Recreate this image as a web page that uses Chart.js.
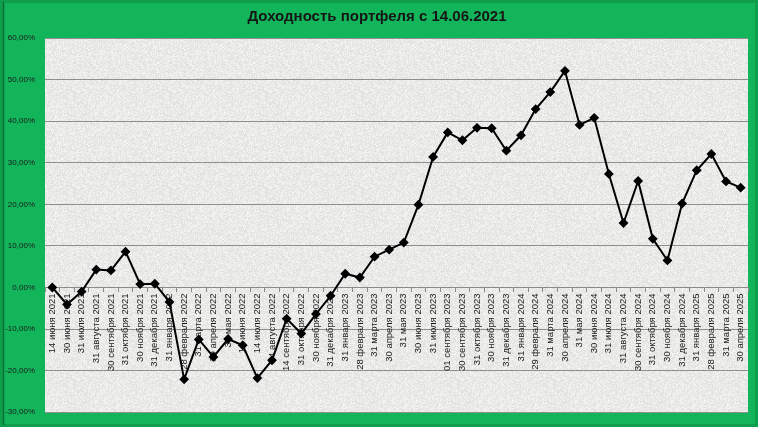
<!DOCTYPE html>
<html lang="ru">
<head>
<meta charset="utf-8">
<title>Доходность портфеля</title>
<script src="https://cdn.jsdelivr.net/npm/chart.js@4.4.1/dist/chart.umd.min.js"></script>
<style>
  html, body { margin: 0; padding: 0; background: #13b55b; }
  #wrap { width: 758px; height: 427px; position: relative; }
</style>
</head>
<body>
<div id="wrap"><canvas id="chart"></canvas></div>
<script>
// даты отчётов
const dates = [
  "14 июня 2021", "30 июня 2021", "31 июля 2021", "31 августа 2021", "30 сентября 2021",
  "31 октября 2021", "30 ноября 2021", "31 декабря 2021", "31 января 2022", "28 февраля 2022",
  "31 марта 2022", "30 апреля 2022", "31 мая 2022", "14 июня 2022", "14 июля 2022",
  "14 августа 2022", "14 сентября 2022", "31 октября 2022", "30 ноября 2022", "31 декабря 2022",
  "31 января 2023", "28 февраля 2023", "31 марта 2023", "30 апреля 2023", "31 мая 2023",
  "30 июня 2023", "31 июля 2023", "01 сентября 2023", "30 сентября 2023", "31 октября 2023",
  "30 ноября 2023", "31 декабря 2023", "31 января 2024", "29 февраля 2024", "31 марта 2024",
  "30 апреля 2024", "31 мая 2024", "30 июня 2024", "31 июля 2024", "31 августа 2024",
  "30 сентября 2024", "31 октября 2024", "30 ноября 2024", "31 декабря 2024", "31 января 2025",
  "28 февраля 2025", "31 марта 2025", "30 апреля 2025"
];

// доходность, %
const returns = [
  0.0, -4.1, -1.0, 4.3, 4.1, 8.6, 0.8, 0.9, -3.5, -22.1,
  -12.5, -16.7, -12.4, -13.9, -21.8, -17.5, -7.5, -11.1, -6.4, -2.0,
  3.3, 2.4, 7.4, 9.1, 10.8, 19.9, 31.4, 37.3, 35.4, 38.4,
  38.3, 32.9, 36.6, 42.9, 47.0, 52.1, 39.1, 40.8, 27.3, 15.5,
  25.6, 11.7, 6.5, 20.2, 28.2, 32.1, 25.5, 24.0
];

// шкала Y
const yMin = -30;
const yMax = 60;
const yStep = 10;

const titleText = "Доходность портфеля с 14.06.2021";

// серая "бумажная" текстура фона области построения
function makePaper() {
  const c = document.createElement("canvas");
  c.width = 96; c.height = 96;
  const g = c.getContext("2d");
  const img = g.createImageData(96, 96);
  for (let i = 0; i < 96 * 96; i++) {
    let h = (i * 2654435761) >>> 0;
    h ^= h >>> 13; h = Math.imul(h, 1274126177) >>> 0; h ^= h >>> 16;
    const v = 234 + ((h & 255) / 255 - 0.5) * 24;
    img.data[i * 4] = v; img.data[i * 4 + 1] = v; img.data[i * 4 + 2] = v - 2;
    img.data[i * 4 + 3] = 255;
  }
  g.putImageData(img, 0, 0);
  return c;
}
const paper = makePaper();

const frame = {
  id: "frame",
  beforeDraw(chart) {
    const ctx = chart.ctx;
    const a = chart.chartArea;
    ctx.save();
    ctx.fillStyle = "#13b55b";
    ctx.fillRect(0, 0, chart.width, chart.height);
    // рамка
    ctx.strokeStyle = "#0f9e4c";
    ctx.lineWidth = 3;
    ctx.strokeRect(1.5, 1.5, chart.width - 3, chart.height - 3);
    ctx.strokeStyle = "#0b6f35";
    ctx.lineWidth = 1.5;
    ctx.beginPath();
    ctx.moveTo(3.5, 2); ctx.lineTo(3.5, chart.height - 2);
    ctx.stroke();
    // фон области построения
    ctx.fillStyle = ctx.createPattern(paper, "repeat");
    ctx.fillRect(a.left, a.top, a.right - a.left, a.bottom - a.top);
    // заголовок
    ctx.fillStyle = "#161616";
    ctx.font = "bold 15px 'Liberation Sans', Arial, sans-serif";
    ctx.textAlign = "center";
    ctx.textBaseline = "middle";
    ctx.fillText(titleText, 377, 17);
    ctx.restore();
  }
};

new Chart(document.getElementById("chart"), {
  type: "line",
  data: {
    labels: dates,
    datasets: [{
      label: "Доходность",
      data: returns,
      borderColor: "#000000",
      backgroundColor: "#000000",
      borderWidth: 2,
      tension: 0,
      pointStyle: "rectRot",
      pointRadius: 3.5,
      pointBackgroundColor: "#000000",
      pointBorderColor: "#000000"
    }]
  },
  options: {
    responsive: true,
    maintainAspectRatio: false,
    animation: false,
    layout: { padding: { left: 0, right: 10, top: 38, bottom: 10 } },
    plugins: {
      legend: { display: false },
      title: { display: false },
      tooltip: { enabled: false }
    },
    scales: {
      x: {
        position: { y: 0 },
        offset: true,
        grid: {
          offset: true,
          drawOnChartArea: false,
          drawTicks: true,
          tickLength: 4,
          color: "#8a8a8a"
        },
        border: { display: true, color: "#8a8a8a" },
        ticks: {
          autoSkip: false,
          minRotation: 90,
          maxRotation: 90,
          padding: 2,
          color: "#1a1a1a",
          font: { family: "'Liberation Sans', Arial, sans-serif", size: 9.5 }
        }
      },
      y: {
        min: yMin,
        max: yMax,
        afterFit(scale) { scale.width = 45; },
        grid: { color: "#8f8f8f", lineWidth: 1, drawTicks: false },
        border: { display: false },
        ticks: {
          stepSize: yStep,
          padding: 10,
          color: "#1a1a1a",
          font: { family: "'Liberation Sans', Arial, sans-serif", size: 8 },
          callback: v => v.toFixed(2).replace(".", ",") + "%"
        }
      }
    }
  },
  plugins: [frame]
});
</script>
</body>
</html>
